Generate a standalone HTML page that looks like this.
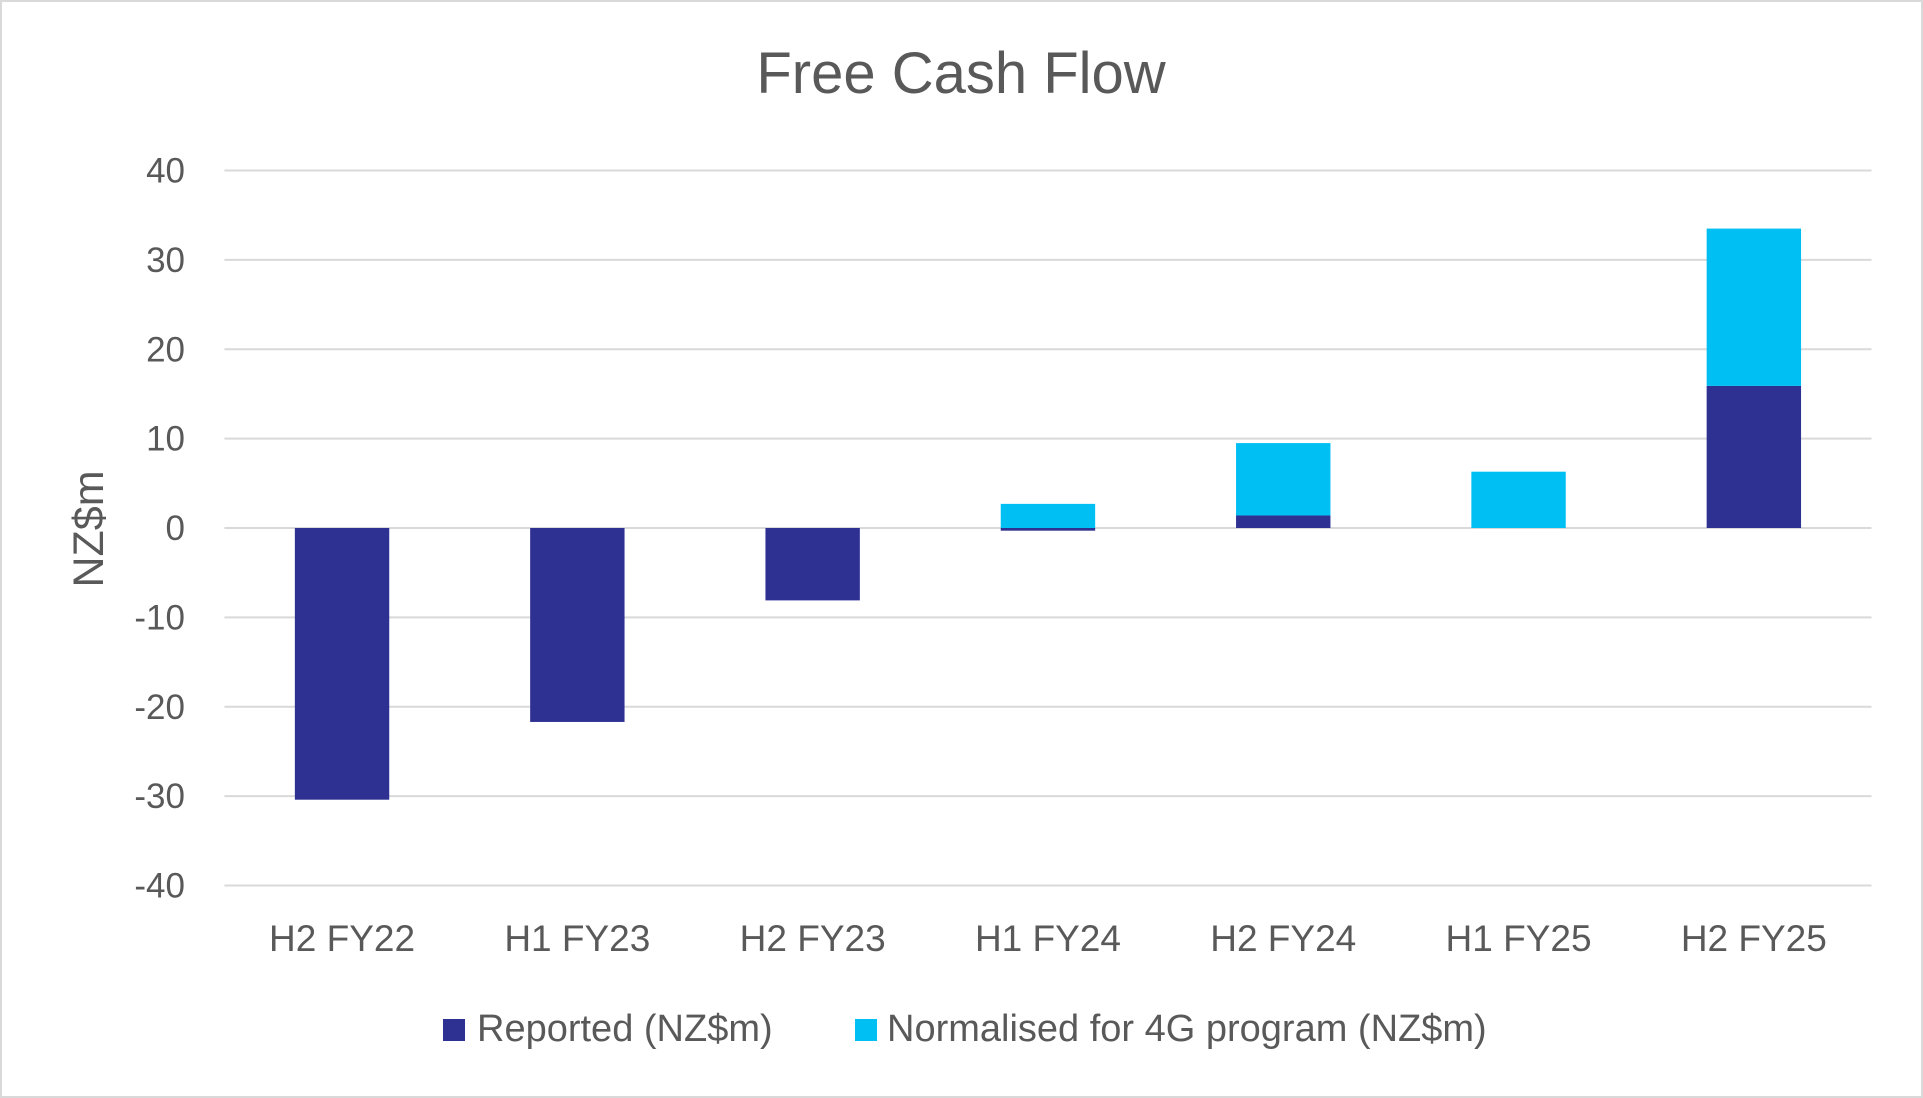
<!DOCTYPE html>
<html><head><meta charset="utf-8"><style>
html,body{margin:0;padding:0;background:#fff;}
svg{display:block;font-family:"Liberation Sans",sans-serif;}
</style></head><body>
<svg id="chart" width="1923" height="1098" viewBox="0 0 1923 1098">
<rect x="1" y="1" width="1921" height="1096" fill="#fff" stroke="#d9d9d9" stroke-width="2"/>
<text x="961" y="93" font-size="58" fill="#595959" text-anchor="middle">Free Cash Flow</text>
<text transform="translate(103,529) rotate(-90)" font-size="43" fill="#595959" text-anchor="middle">NZ$m</text>
<g id="grid"></g><g id="bars"></g><g id="xlabels"></g>
<g>
<rect x="443" y="1019" width="22" height="22" fill="#2E3192"/>
<text x="477" y="1041" font-size="38" fill="#595959">Reported (NZ$m)</text>
<rect x="855" y="1019" width="22" height="22" fill="#00BFF3"/>
<text x="887" y="1041" font-size="38" fill="#595959">Normalised for 4G program (NZ$m)</text>
</g>
</svg>
<script>
const categories = ["H2 FY22","H1 FY23","H2 FY23","H1 FY24","H2 FY24","H1 FY25","H2 FY25"];
const reported = [-30.4,-21.7,-8.1,-0.3,1.4,0,15.9];
const normalised = [0,0,0,2.7,8.1,6.3,17.6];
const yTicks = [40,30,20,10,0,-10,-20,-30,-40];
const NS="http://www.w3.org/2000/svg";
const plotLeft=224.4,plotRight=1871.5,yMax=40,yMin=-40,plotTop=170.5,plotBottom=885.5;
const band=(plotRight-plotLeft)/categories.length,barW=94.4;
function yS(v){return plotTop+(yMax-v)/(yMax-yMin)*(plotBottom-plotTop);}
function xc(i){return plotLeft+band*(i+0.5);}
function mk(tag,attrs,parent){const e=document.createElementNS(NS,tag);for(const k in attrs)e.setAttribute(k,attrs[k]);parent.appendChild(e);return e;}
const grid=document.getElementById('grid'),bars=document.getElementById('bars'),xl=document.getElementById('xlabels');
yTicks.forEach(t=>{
  const l=mk('line',{x1:plotLeft,x2:plotRight,y1:yS(t),y2:yS(t),stroke:'#d9d9d9','stroke-width':2},grid);
  
  
  const tx=mk('text',{x:185,y:yS(t)+12,'font-size':35,fill:'#595959','text-anchor':'end'},grid);
  tx.textContent=t;
  
  
});
categories.forEach((c,i)=>{
  const r=reported[i],n=normalised[i];
  const r0=Math.min(0,r),r1=Math.max(0,r);
  const b=mk('rect',{x:xc(i)-barW/2,y:yS(r1),width:barW,height:Math.max(0.01,yS(r0)-yS(r1)),fill:'#2E3192'},bars);
  
  
  const base=Math.max(0,r);
  const b2=mk('rect',{x:xc(i)-barW/2,y:yS(base+n),width:barW,height:Math.max(0,yS(base)-yS(base+n)),fill:'#00BFF3'},bars);
  
  
  const t=mk('text',{x:xc(i),y:951,'font-size':37,fill:'#595959','text-anchor':'middle'},xl);
  t.textContent=c;
  
  
});
</script>
</body></html>
